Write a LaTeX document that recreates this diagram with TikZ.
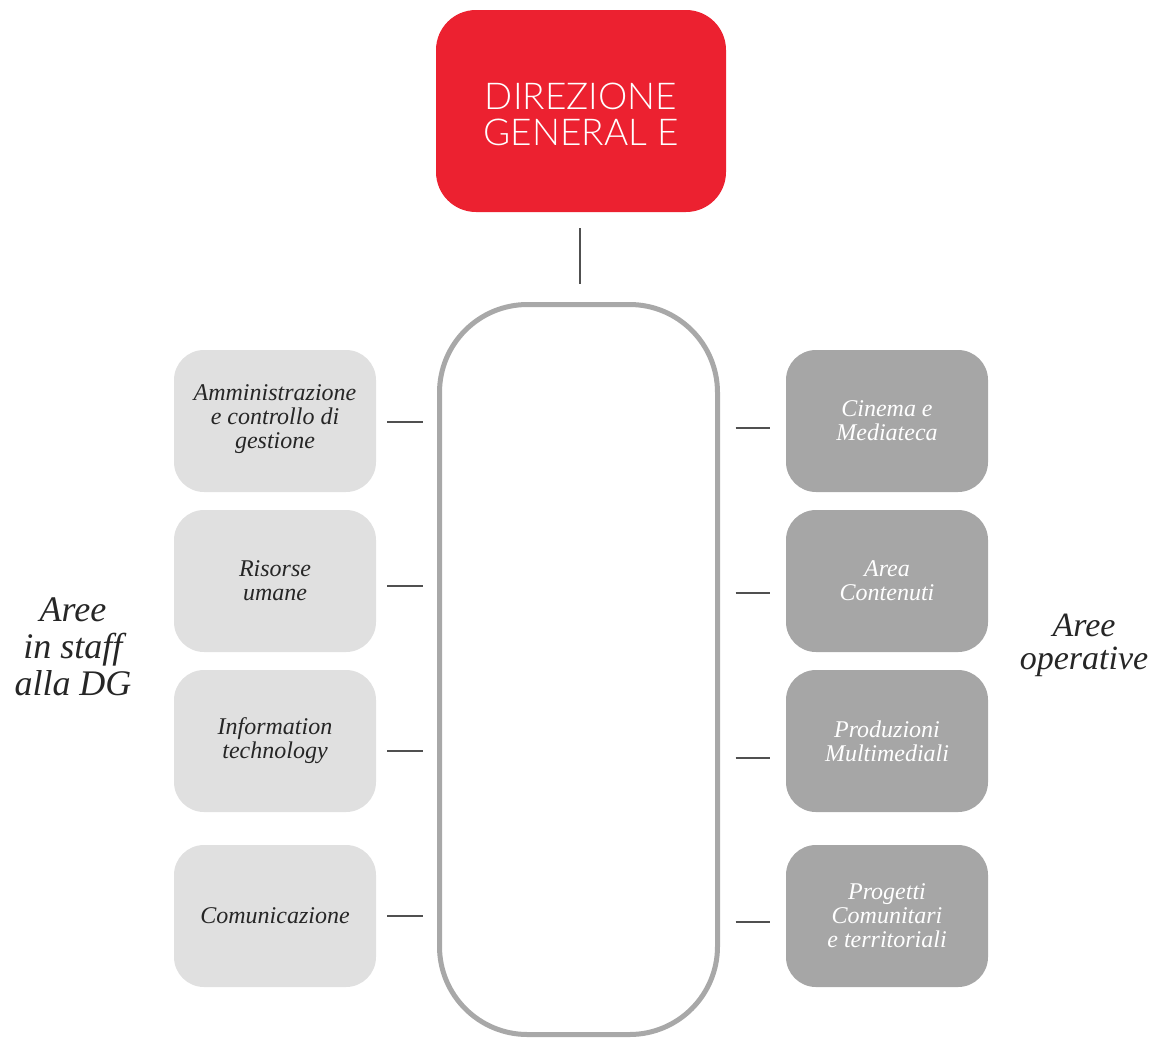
\documentclass[tikz,border=0pt]{standalone}
\usepackage{fontspec}
\setmainfont{Liberation Serif}
\newfontfamily\titlefont{Lato Light}
\definecolor{dgred}{HTML}{EC2130}
\definecolor{staffgray}{HTML}{E0E0E0}
\definecolor{opgray}{HTML}{A6A6A6}
\definecolor{framegray}{HTML}{A8A8A8}
\definecolor{linkgray}{HTML}{505050}
\begin{document}
\begin{tikzpicture}[x=1pt,y=-1pt,
  headbox/.style={fill=dgred, rounded corners=40pt, minimum width=290pt, minimum height=202pt,
    inner sep=0pt, text=white, align=center, font=\titlefont\fontsize{37}{35}\selectfont},
  frame/.style={draw=framegray, line width=5pt, fill=white, rounded corners=88pt,
    minimum width=278pt, minimum height=730pt, inner sep=0pt},
  unitbox/.style={rounded corners=30pt, minimum width=202pt, minimum height=142pt,
    inner sep=0pt, align=center, font=\itshape\fontsize{24}{24}\selectfont},
  staffbox/.style={unitbox, fill=staffgray, text=black!85},
  opbox/.style={unitbox, fill=opgray, text=white},
  sidelabel/.style={align=center, font=\itshape\fontsize{36}{37}\selectfont, text=black!85},
  link/.style={draw=linkgray, line width=2.2pt}
]
\useasboundingbox (0,0) rectangle (1158,1039);

% top management and the frame below it
\node[headbox] (dg) at (581,111) {\raisebox{-14.5pt}[0pt][0pt]{\begin{tabular}{@{}c@{}}DIREZIONE\\[-1pt]GENERAL E\end{tabular}}};
\node[frame] (core) at (578.5,669.5) {};
\draw[link, shorten <=16pt, shorten >=18pt] (dg.south -| 580,0) -- (core.north -| 580,0);

% staff areas (left)
\node[staffbox] (s1) at (275,421) {\raisebox{-5pt}[0pt][0pt]{\begin{tabular}{@{}c@{}}Amministrazione\\e controllo di\\gestione\end{tabular}}};
\node[staffbox] (s2) at (275,581) {Risorse\\umane};
\node[staffbox] (s3) at (275,741) {Information\\technology};
\node[staffbox] (s4) at (275,916) {Comunicazione};

% operative areas (right)
\node[opbox] (o1) at (887,421) {Cinema e\\Mediateca};
\node[opbox] (o2) at (887,581) {Area\\Contenuti};
\node[opbox] (o3) at (887,741) {Produzioni\\Multimediali};
\node[opbox] (o4) at (887,916) {Progetti\\Comunitari\\e territoriali};

% side captions
\node[sidelabel] (ls) at (73,647) {Aree\\in staff\\alla DG};
\node[sidelabel, font=\itshape\fontsize{34}{33}\selectfont] (lo) at (1084,645) {Aree\\operative};

% connectors between the units and the frame
\draw[link, shorten <=11pt, shorten >=14.5pt] ([yshift=-1pt]s1.east) -- ([yshift=-1pt]s1.east -| core.west);
\draw[link, shorten <=11pt, shorten >=14.5pt] ([yshift=-5pt]s2.east) -- ([yshift=-5pt]s2.east -| core.west);
\draw[link, shorten <=11pt, shorten >=14.5pt] ([yshift=-10pt]s3.east) -- ([yshift=-10pt]s3.east -| core.west);
\draw[link, shorten <=11pt, shorten >=14.5pt] (s4.east) -- (s4.east -| core.west);

\draw[link, shorten <=15.5pt, shorten >=16pt] ([yshift=-7pt]o1.west -| core.east) -- ([yshift=-7pt]o1.west);
\draw[link, shorten <=15.5pt, shorten >=16pt] ([yshift=-12pt]o2.west -| core.east) -- ([yshift=-12pt]o2.west);
\draw[link, shorten <=15.5pt, shorten >=16pt] ([yshift=-17pt]o3.west -| core.east) -- ([yshift=-17pt]o3.west);
\draw[link, shorten <=15.5pt, shorten >=16pt] ([yshift=-6pt]o4.west -| core.east) -- ([yshift=-6pt]o4.west);
\end{tikzpicture}
\end{document}
